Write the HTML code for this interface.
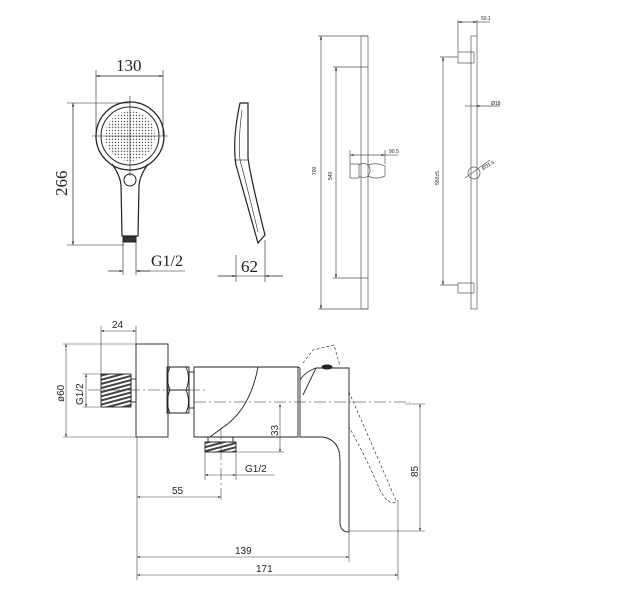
<!DOCTYPE html>
<html><head><style>
html,body{margin:0;padding:0;background:#fff}
svg{display:block}
text{font-family:"Liberation Sans",sans-serif;fill:#222}
.s{font-family:"Liberation Serif",serif}
</style></head><body>
<svg width="622" height="600" viewBox="0 0 622 600" xmlns="http://www.w3.org/2000/svg">
<defs>
<marker id="a" viewBox="0 0 10 10" refX="10" refY="5" markerWidth="6" markerHeight="5" orient="auto-start-reverse"><path d="M0,2 L10,5 L0,8z" fill="#222"/></marker>
<pattern id="dots" width="3" height="3" patternUnits="userSpaceOnUse"><circle cx="1.5" cy="1.5" r="0.7" fill="#555"/></pattern>
<pattern id="thr" width="4" height="4" patternUnits="userSpaceOnUse" patternTransform="rotate(75)"><rect width="2" height="4" fill="#444"/></pattern>
</defs>
<g fill="none" stroke="#222" stroke-width="1">
<!-- hand shower front -->
<circle cx="130" cy="136" r="34" stroke-width="1.3"/>
<circle cx="130" cy="136" r="29"/>
<circle cx="130" cy="136" r="25" fill="url(#dots)" stroke="none"/>
<path d="M112,164 Q120,175 121,185 L122,236 L138,236 L139,185 Q140,175 148,164" stroke-width="1.2"/>
<circle cx="130" cy="180" r="6"/>
<rect x="123" y="236" width="13" height="6" fill="#333"/>
<line x1="130" y1="96" x2="130" y2="176" stroke-width="0.6"/>
<line x1="92" y1="136" x2="168" y2="136" stroke-width="0.6"/>
<!-- 130 dim -->
<line x1="96" y1="70" x2="96" y2="136" stroke-width="0.6"/>
<line x1="163" y1="70" x2="163" y2="136" stroke-width="0.6"/>
<line x1="96" y1="76" x2="163" y2="76" marker-start="url(#a)" marker-end="url(#a)" stroke-width="0.7"/>
<!-- 266 dim -->
<line x1="67" y1="103" x2="130" y2="103" stroke-width="0.6"/>
<line x1="67" y1="245" x2="124" y2="245" stroke-width="0.6"/>
<line x1="73" y1="103" x2="73" y2="245" marker-start="url(#a)" marker-end="url(#a)" stroke-width="0.7"/>
<!-- G1/2 -->
<line x1="123" y1="242" x2="123" y2="275" stroke-width="0.6"/>
<line x1="136" y1="242" x2="136" y2="275" stroke-width="0.6"/>
<line x1="108" y1="271" x2="123" y2="271" marker-end="url(#a)" stroke-width="0.7"/>
<line x1="150" y1="271" x2="136" y2="271" marker-end="url(#a)" stroke-width="0.7"/>
<line x1="136" y1="271" x2="185" y2="271" stroke-width="0.6"/>
<!-- side profile -->
<path d="M240,103 L248,103 L248,158 Q250,175 265,235 L258,243 Q246,200 236,165 Q232,140 240,103 Z" stroke-width="1.2"/>
<path d="M242,110 Q238,140 240,160 Q248,190 258,232" stroke-width="0.6"/>
<line x1="234" y1="160" x2="248" y2="160" stroke-width="0.6"/>
<line x1="236" y1="255" x2="236" y2="282" stroke-width="0.6"/>
<line x1="265" y1="240" x2="265" y2="282" stroke-width="0.6"/>
<line x1="218" y1="276" x2="236" y2="276" marker-end="url(#a)" stroke-width="0.7"/>
<line x1="283" y1="276" x2="265" y2="276" marker-end="url(#a)" stroke-width="0.7"/>
<line x1="236" y1="276" x2="265" y2="276" stroke-width="0.6"/>
</g>
<g fill="none" stroke="#555" stroke-width="0.7">
<!-- left rail -->
<rect x="361" y="36" width="7" height="273"/>
<line x1="318" y1="36" x2="368" y2="36"/><line x1="318" y1="309" x2="368" y2="309"/>
<line x1="321" y1="36" x2="321" y2="309" marker-start="url(#a)" marker-end="url(#a)"/>
<line x1="333" y1="67" x2="368" y2="67"/><line x1="333" y1="278" x2="368" y2="278"/>
<line x1="336" y1="67" x2="336" y2="278" marker-start="url(#a)" marker-end="url(#a)"/>
<path d="M350,164 L359,164 L359,178 L350,178 Z M359,165 Q363,162 368,165 Q372,170 368,176 Q363,179 359,176 M368,165 Q376,162 385,166 L385,176 Q376,180 368,176"/>
<line x1="350" y1="150" x2="350" y2="164"/><line x1="385" y1="150" x2="385" y2="164"/>
<line x1="350" y1="155" x2="385" y2="155" marker-start="url(#a)" marker-end="url(#a)"/>
<line x1="385" y1="155" x2="398" y2="155"/>
<!-- right rail -->
<rect x="471" y="36" width="6" height="273"/>
<rect x="458" y="52" width="16" height="11"/>
<rect x="458" y="283" width="16" height="10"/>
<line x1="458" y1="20" x2="458" y2="52"/><line x1="477" y1="20" x2="477" y2="36"/>
<line x1="458" y1="22" x2="477" y2="22" marker-start="url(#a)" marker-end="url(#a)"/>
<line x1="477" y1="22" x2="490" y2="22"/>
<line x1="440" y1="57" x2="458" y2="57"/><line x1="440" y1="285" x2="458" y2="285"/>
<line x1="443" y1="57" x2="443" y2="285" marker-start="url(#a)" marker-end="url(#a)"/>
<circle cx="474" cy="173" r="6"/>
<line x1="465" y1="178" x2="490" y2="160"/>
<line x1="465" y1="106" x2="481" y2="106" marker-end="url(#a)"/>
<line x1="481" y1="106" x2="500" y2="106"/>
</g>
<g font-size="5" fill="#444">
<text x="316" y="175" transform="rotate(-90 316 175)" font-size="5">700</text>
<text x="332" y="180" transform="rotate(-90 332 180)" font-size="5">540</text>
<text x="389" y="153" font-size="5">90.5</text>
<text x="481" y="20" font-size="5">50.1</text>
<text x="491" y="105" font-size="5">Ø18</text>
<text x="483" y="170" font-size="5" transform="rotate(-30 483 170)">Ø31.5</text>
<text x="439" y="185" transform="rotate(-90 439 185)" font-size="5">550±5</text>
</g>
<text class="s" x="116" y="71" font-size="17">130</text>
<text class="s" x="67" y="196" font-size="17" transform="rotate(-90 67 196)">266</text>
<text class="s" x="151" y="266" font-size="16">G1/2</text>
<text class="s" x="241" y="272" font-size="17">62</text>
<!-- mixer -->
<g fill="none" stroke="#222" stroke-width="0.9">
<rect x="136" y="344" width="32" height="93"/>
<rect x="101" y="374" width="30" height="33" fill="url(#thr)"/>
<rect x="131" y="379" width="5" height="23"/>
<path d="M167,367 L189,367 L189,413 L167,413 Z M167,390 L189,390 M170,367 Q165,378 170,390 Q165,402 170,413 M186,367 Q191,378 186,390 Q191,402 186,413"/>
<rect x="189" y="372" width="5" height="36"/>
<path d="M194,367 L298,367 L298,437 L194,437 Z"/>
<path d="M258,367 Q250,410 222,428 L210,437"/>
<path d="M300,368 L300,437 L323,437 Q340,440 340,460 L340,522 Q340,532 349,532 L349,368 L316,368 L303,395"/>
<path d="M316,368 Q305,372 300,380"/>
<path d="M298,367 L300,368"/>
<ellipse cx="327" cy="367" rx="5" ry="2" fill="#222"/>
<rect x="205" y="442" width="31" height="10" fill="url(#thr)"/>
<rect x="208" y="437" width="25" height="5"/>
<g stroke-dasharray="3,2" stroke-width="0.6">
<path d="M303,363 L313,350 L334,345 L340,366"/>
<path d="M349,392 Q370,440 395,498 Q398,503 392,503 Q385,500 380,490 Q365,455 349,427"/>
</g>
<g stroke-dasharray="12,3,2,3" stroke-width="0.5">
<line x1="88" y1="390" x2="205" y2="390"/>
<line x1="194" y1="402" x2="410" y2="402"/>
<line x1="221" y1="428" x2="221" y2="500"/>
</g>
</g>
<g fill="none" stroke="#444" stroke-width="0.6">
<line x1="101" y1="326" x2="101" y2="374"/><line x1="136" y1="326" x2="136" y2="344"/>
<line x1="101" y1="331" x2="136" y2="331" marker-start="url(#a)" marker-end="url(#a)"/>
<line x1="63" y1="344" x2="136" y2="344"/><line x1="63" y1="437" x2="136" y2="437"/>
<line x1="66" y1="344" x2="66" y2="437" marker-start="url(#a)" marker-end="url(#a)"/>
<line x1="83" y1="374" x2="101" y2="374"/><line x1="83" y1="407" x2="101" y2="407"/>
<line x1="86" y1="374" x2="86" y2="407" marker-start="url(#a)" marker-end="url(#a)"/>
<line x1="236" y1="452" x2="284" y2="452"/>
<line x1="280" y1="404" x2="280" y2="452" marker-start="url(#a)" marker-end="url(#a)"/>
<line x1="405" y1="404" x2="425" y2="404"/><line x1="349" y1="531" x2="425" y2="531"/>
<line x1="420" y1="404" x2="420" y2="531" marker-start="url(#a)" marker-end="url(#a)"/>
<line x1="205" y1="452" x2="205" y2="480"/><line x1="236" y1="452" x2="236" y2="480"/>
<line x1="205" y1="475" x2="236" y2="475" marker-start="url(#a)" marker-end="url(#a)"/>
<line x1="236" y1="475" x2="275" y2="475"/>
<line x1="137" y1="437" x2="137" y2="580"/>
<line x1="349" y1="532" x2="349" y2="562"/>
<line x1="398" y1="500" x2="398" y2="580"/>
<line x1="137" y1="497" x2="221" y2="497" marker-start="url(#a)" marker-end="url(#a)"/>
<line x1="137" y1="557" x2="349" y2="557" marker-start="url(#a)" marker-end="url(#a)"/>
<line x1="137" y1="575" x2="398" y2="575" marker-start="url(#a)" marker-end="url(#a)"/>
</g>
<g font-size="10">
<text x="112" y="328">24</text>
<text x="64" y="402" transform="rotate(-90 64 402)">ø60</text>
<text x="83" y="405" transform="rotate(-90 83 405)">G1/2</text>
<text x="278" y="436" transform="rotate(-90 278 436)">33</text>
<text x="418" y="477" transform="rotate(-90 418 477)">85</text>
<text x="245" y="472">G1/2</text>
<text x="172" y="494">55</text>
<text x="235" y="554">139</text>
<text x="256" y="572">171</text>
</g>
</svg>
</body></html>
